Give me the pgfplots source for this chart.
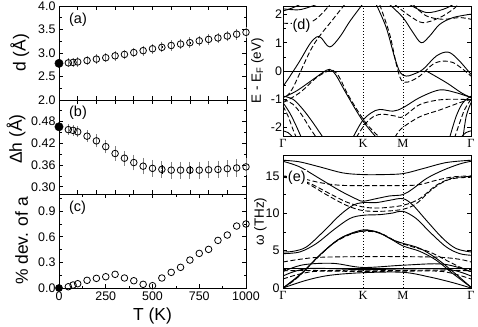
\documentclass[border=0pt]{standalone}
\usepackage{pgfplots}
\pgfplotsset{compat=1.18}
\usepackage{pgfplotstable}
\usepackage{fontspec}
\setmainfont{Liberation Sans}
\newfontfamily\serif{Liberation Serif}

\pgfplotsset{
  baseax/.style={scale only axis, axis line style={line width=0.9bp}, tick style={black, line width=0.7bp},
    major tick length=4bp, minor tick length=2.5bp, /pgf/number format/assume math mode=true,
    /pgf/number format/1000 sep={},
    tick label style={font=\fontsize{12.5}{13}\selectfont},
    label style={font=\fontsize{17.5}{18}\selectfont}},
  lpanel/.style={baseax, width=187bp, height=94bp, xmin=0, xmax=1000, clip=false,
    ylabel style={anchor=center}},
  pts/.style={only marks, mark=o, mark size=3.3bp, mark options={line width=0.8bp, black, fill=white}, black,
    error bars/.cd, y dir=both, y explicit, error bar style={black, line width=0.7bp},
    error mark options={gray, line width=0.9bp, mark size=4.2bp}},
  tzero/.style={only marks, mark=*, mark size=4.2bp, black},
  band/.style={black, line width=0.9bp, smooth, tension=0.55, mark=none},
  dband/.style={band, dash pattern=on 5bp off 2.5bp},
  vline/.style={black, dotted, line width=0.9bp, mark=none},
  rpanel/.style={baseax, width=188bp, xmin=0, xmax=188, xtick={0,80,120,188},
    xticklabels={Γ,K,M,Γ}, xtick style={draw=none},
    xticklabel style={font=\serif\fontsize{12.5}{13}\selectfont},
    minor y tick num=1,
    label style={font=\fontsize{13.5}{14}\selectfont},
    ylabel style={anchor=center}},
}
\tikzset{plabel/.style={anchor=west, font=\fontsize{14.5}{15}\selectfont, inner sep=1bp}}

\pgfplotstableread{
T d e
50 2.79 0.005
75 2.80 0.005
100 2.81 0.008
150 2.84 0.01
200 2.87 0.01
250 2.90 0.012
300 2.94 0.014
350 2.97 0.015
400 3.01 0.016
450 3.05 0.017
500 3.09 0.018
550 3.12 0.019
600 3.16 0.02
650 3.19 0.02
700 3.22 0.021
750 3.26 0.022
800 3.29 0.022
850 3.32 0.023
900 3.36 0.024
950 3.40 0.025
1000 3.44 0.025
}\dtable

\pgfplotstableread{
T h e
50 0.458 0.003
75 0.456 0.003
100 0.452 0.004
150 0.440 0.005
200 0.427 0.006
250 0.411 0.007
300 0.392 0.008
350 0.379 0.009
400 0.367 0.010
450 0.357 0.011
500 0.351 0.012
550 0.348 0.012
600 0.346 0.012
650 0.346 0.012
700 0.346 0.012
750 0.346 0.012
800 0.347 0.012
850 0.348 0.012
900 0.350 0.012
950 0.352 0.012
1000 0.355 0.012
}\htable

\pgfplotstableread{
T a
50 0.015
75 0.035
100 0.05
150 0.09
200 0.113
250 0.132
300 0.16
350 0.117
400 0.085
450 0.043
500 0.027
550 0.117
600 0.183
650 0.242
700 0.327
750 0.405
800 0.452
850 0.557
900 0.62
950 0.725
1000 0.749
}\atable

\begin{document}
\begin{tikzpicture}
\path[use as bounding box] (0,0) rectangle (478bp,-327bp);

% (a)
\begin{axis}[lpanel, at={(59bp,-6bp)}, anchor=north west,
  ymin=2, ymax=4, ytick={2,2.5,3,3.5,4}, minor y tick num=1,
  xtick={0,100,...,1000}, xticklabel=\empty,
  yticklabel style={/pgf/number format/.cd, fixed, fixed zerofill, precision=1},
  ylabel={d (Å)}, ylabel style={at={(axis description cs:-0.21,0.5)}}]
\addplot[pts] table[x=T, y=d, y error=e] {\dtable};
\addplot[tzero] coordinates {(0,2.78)};
\node[plabel] at (rel axis cs:0.048,0.851) {(a)};
\end{axis}

% (b)
\begin{axis}[lpanel, at={(59bp,-100bp)}, anchor=north west,
  ymin=0.28, ymax=0.54, ytick={0.30,0.36,0.42,0.48}, minor ytick={0.33,0.39,0.45,0.51},
  xtick={0,100,...,1000}, xticklabel=\empty,
  yticklabel style={/pgf/number format/.cd, fixed, fixed zerofill, precision=2},
  ylabel={Δh (Å)}, ylabel style={at={(axis description cs:-0.23,0.585)}}]
\addplot[pts] table[x=T, y=h, y error=e] {\htable};
\addplot[tzero] coordinates {(0,0.466)};
\node[plabel] at (rel axis cs:0.048,0.862) {(b)};
\end{axis}

% (c)
\begin{axis}[lpanel, at={(59bp,-194bp)}, anchor=north west,
  ymin=0, ymax=1.1, ytick={0,0.3,0.6,0.9}, minor ytick={0.15,0.45,0.75,1.05},
  xtick={0,250,...,1000}, minor x tick num=1,
  yticklabel style={/pgf/number format/.cd, fixed, fixed zerofill, precision=1},
  ylabel={\% dev. of a}, ylabel style={at={(axis description cs:-0.2,0.5)}},
  xlabel={T (K)}, xlabel style={at={(axis description cs:0.5,0)}, anchor=base, yshift=-32bp}]
\addplot[only marks, mark=o, mark size=3.3bp, mark options={line width=0.8bp, black}] table[x=T, y=a] {\atable};
\addplot[tzero, mark size=3.6bp] coordinates {(0,0.0)};
\node[plabel] at (rel axis cs:0.048,0.851) {(c)};
\end{axis}

% (d) electronic bands
\begin{axis}[rpanel, at={(283bp,-6bp)}, anchor=north west, height=130bp,
  ymin=-2.3, ymax=2.3, ytick={-2,-1,0,1,2},
  yticklabel style={xshift=2.5bp},
  ylabel={E - E\textsubscript{F} (eV)}, ylabel style={at={(axis description cs:-0.136,0.5)}}]
\addplot[vline] coordinates {(80,-2.3) (80,2.3)};
\addplot[vline] coordinates {(120,-2.3) (120,2.3)};
\addplot[black, line width=0.9bp, mark=none] coordinates {(0,0) (188,0)};
% solid bands
\addplot[band] coordinates {(0,-0.94) (13.3,-0.71) (30,-0.30) (40,-0.05) (46.7,0.06) (53,-0.15) (63.3,-0.80) (79.3,-1.74) (93.3,-2.35)};
\addplot[band] coordinates {(0,-0.55) (6.7,-0.2) (16.7,0.35) (26.7,0.95) (33.3,1.2) (38,1.18) (46.7,0.85) (56.7,1.2) (66.7,1.75) (79.3,2.35)};
\addplot[band] coordinates {(0,2.12) (10,2.24) (16.7,2.35)};
\addplot[band] coordinates {(0,2.2) (16.7,2.17) (33.3,2.35)};
\addplot[band] coordinates {(93.3,2.35) (103.3,1.53) (111.7,0.47) (117.3,-0.06) (123.3,-0.18) (130,-0.12) (140,0.06) (153.3,0.53) (165,0.67) (175,0.41) (188,-0.12)};
\addplot[band] coordinates {(106.7,2.35) (120,1.89) (130,1.36) (138.3,1.0) (146.7,1.24) (156.7,1.65) (170,1.89) (188,2.01)};
\addplot[band] coordinates {(126.7,2.35) (143.3,2.07) (160,2.18) (170,2.35)};
\addplot[band] coordinates {(70,-2.35) (79.3,-1.77) (88.3,-1.48) (96.7,-1.36) (110,-1.42) (120,-1.3) (136.7,-0.94) (156.7,-0.67) (173.3,-0.77) (188,-0.94)};
\addplot[band] coordinates {(143.3,0) (163.3,-0.41) (178.3,-0.77) (188,-0.94)};
\addplot[band] coordinates {(0,-0.89) (10,-1.0) (20,-1.36) (30,-1.83) (40,-2.35)};
\addplot[band] coordinates {(0,-1.12) (6.7,-1.48) (13.3,-1.95) (18.3,-2.35)};
\addplot[band] coordinates {(0,-2.12) (5,-2.18) (10,-2.35)};
\addplot[band] coordinates {(188,-0.89) (180,-1.12) (173.3,-1.59) (166.7,-2.35)};
\addplot[band] coordinates {(188,-1.12) (183.3,-1.59) (180,-2.35)};
\addplot[band] coordinates {(188,-2.12) (183,-2.18) (178,-2.35)};
% dashed bands
\addplot[dband] coordinates {(0,-1.12) (16.7,-0.77) (33.3,-0.24) (45,0.0) (50,0.02) (56,-0.2) (66,-0.9) (82.7,-1.83) (96.7,-2.35)};
\addplot[dband] coordinates {(3,-0.9) (10,-0.59) (30,0.89) (50,1.83) (61.7,2.35)};
\addplot[dband] coordinates {(0,1.69) (16.7,1.69) (30,1.77) (40,2.07) (46.7,2.35)};
\addplot[dband] coordinates {(96.7,2.35) (106.7,1.3) (113.3,0.24) (118.3,-0.32) (125,-0.39) (136.7,-0.18) (150,0.24) (160,0.35) (170,0.3) (180,0.06) (188,-0.18)};
\addplot[dband] coordinates {(130,2.35) (143.3,1.95) (160,1.83) (176.7,1.89) (188,1.83)};
\addplot[dband] coordinates {(111.7,2.35) (126.7,1.95) (140,1.71) (156.7,1.89) (170,2.18) (175,2.35)};
\addplot[dband] coordinates {(73.3,-2.35) (82.7,-1.85) (91.7,-1.59) (100,-1.53) (111.7,-1.59) (120,-1.62) (136.7,-1.19) (156.7,-1.02) (176.7,-1.0) (188,-1.03)};
\addplot[dband] coordinates {(112,-2.35) (118.3,-2.04) (136.7,-1.62) (156.7,-1.38) (176.7,-1.12) (188,-1.0)};
\addplot[dband] coordinates {(0,-1.0) (10,-1.18) (18.3,-1.53) (26.7,-2.01) (33.3,-2.35)};
\addplot[dband] coordinates {(0,-1.24) (5,-1.59) (10,-2.07) (13.3,-2.35)};
\addplot[dband] coordinates {(188,-1.0) (181.7,-1.36) (176.7,-1.83) (171.7,-2.35)};
\node[plabel, fill=white] at (rel axis cs:0.045,0.846) {(d)};
\end{axis}

% (e) phonon bands
\begin{axis}[rpanel, at={(283bp,-155bp)}, anchor=north west, height=133bp,
  ymin=0, ymax=17.8, ytick={0,5,10,15},
  ylabel={ω (THz)}, ylabel style={at={(axis description cs:-0.12,0.5)}}]
\addplot[vline] coordinates {(80,0) (80,17.8)};
\addplot[vline] coordinates {(120,0) (120,17.8)};
% solid bands
\addplot[band] coordinates {(0,17.1) (16.7,16.88) (36.7,16.21) (60,15.4) (80,15.18) (100,15.18) (120,15.31) (140,15.98) (163.3,16.79) (188,17.1)};
\addplot[band] coordinates {(0,16.96) (16.7,16.21) (36.7,14.64) (56.7,13.04) (73.3,11.91) (80,11.61) (93.3,11.96) (106.7,12.32) (120,12.5) (130,13.3) (143.3,14.64) (160,15.76) (176.7,16.6) (188,16.96)};
\addplot[band] coordinates {(0,4.82) (10,4.91) (23.3,5.49) (40,7.5) (56.7,9.73) (70,11.07) (80,11.43) (93.3,11.43) (106.7,11.74) (120,11.96) (130,11.07) (143.3,9.06) (160,6.61) (173.3,5.27) (188,4.82)};
\addplot[band] coordinates {(0,4.6) (16.7,4.82) (33.3,5.94) (50,7.72) (66.7,9.29) (80,9.73) (96.7,9.82) (110,10.04) (120,10.27) (133.3,9.29) (146.7,7.5) (163.3,5.49) (176.7,4.6) (188,4.38)};
\addplot[band] coordinates {(0,0) (16.7,1.7) (36.7,4.38) (56.7,6.61) (80,7.77) (96.7,7.32) (110,6.43) (120,5.98) (136.7,5.31) (153.3,3.97) (170,2.19) (188,0.1)};
\addplot[band] coordinates {(0,0) (20,2.14) (40,4.82) (60,6.83) (80,7.63) (93.3,7.54) (106.7,6.65) (120,5.63) (136.7,4.91) (153.3,3.71) (170,1.92) (188,0.1)};
\addplot[band] coordinates {(0,2.63) (188,2.63)};
\addplot[band] coordinates {(0,2.2) (20,3.1) (50,3.3) (80,2.75) (120,3.05) (160,3.2) (188,2.2)};
\addplot[band] coordinates {(0,1.6) (25,2.6) (80,2.45) (120,2.55) (165,2.5) (188,1.6)};
\addplot[band] coordinates {(0,0) (23.3,1.03) (46.7,1.7) (80,2.05) (120,2.1) (146.7,1.47) (170,0.71) (188,0)};
% dashed bands
\addplot[dband] coordinates {(0,0) (13.3,1.25) (30,3.48) (50,5.94) (66.7,7.14) (80,7.59) (96.7,7.37) (113.3,6.25) (130,5.49) (146.7,4.82) (163.3,3.71) (176.7,2.81) (188,2.14)};
\addplot[dband] coordinates {(0,15) (16.7,14.73) (36.7,14.11) (56.7,13.75) (80,13.71) (120,13.71) (136.7,13.84) (153.3,14.42) (170,14.87) (188,15)};
\addplot[dband] coordinates {(0,14.91) (23.3,14.2) (46.7,12.63) (63.3,11.52) (80,10.85) (96.7,10.71) (120,11.07) (136.7,11.96) (153.3,13.75) (170,14.73) (188,14.91)};
\addplot[dband] coordinates {(0,14.82) (20,14.29) (43.3,12.5) (63.3,11.07) (80,10.36) (100,10.27) (120,10.54) (133.3,11.29) (150,13.3) (166.7,14.55) (188,14.82)};
\addplot[dband] coordinates {(0,3.48) (16.7,3.84) (36.7,4.11) (80,4.2) (120,4.2) (156.7,4.11) (176.7,3.84) (188,3.48)};
\addplot[dband] coordinates {(0,2.3) (30,2.35) (80,2.3) (120,2.35) (160,2.4) (188,2.3)};
\addplot[dband] coordinates {(0,1.2) (30,2.2) (80,2.2) (120,2.25) (160,2.2) (188,1.2)};
\node[plabel, fill=white] at (rel axis cs:0.02,0.827) {(e)};
\end{axis}
\end{tikzpicture}
\end{document}
